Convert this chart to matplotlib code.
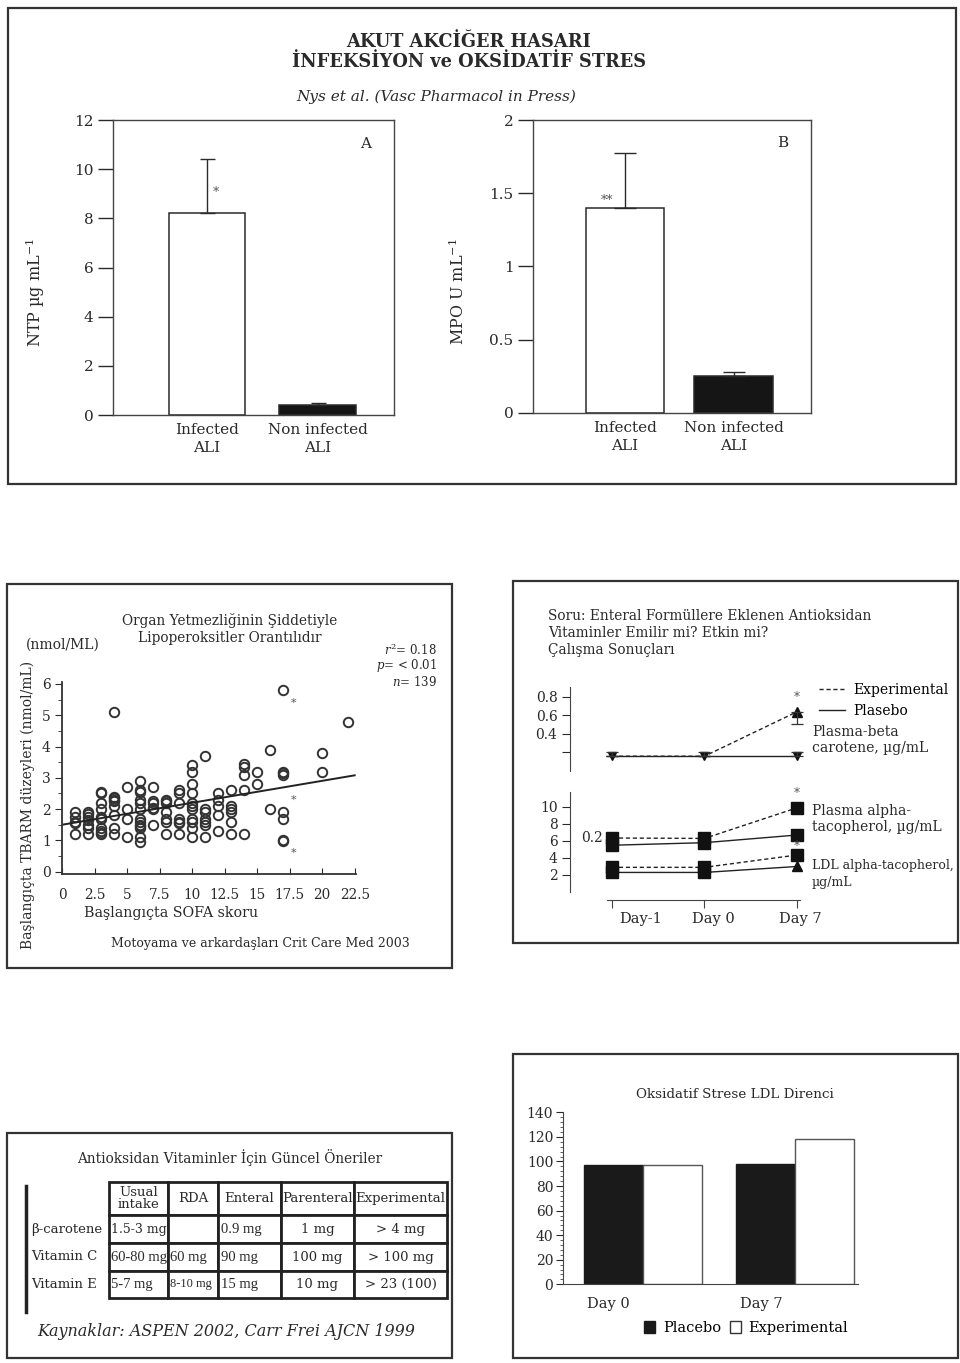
import matplotlib.pyplot as plt
from matplotlib.patches import Rectangle, Patch
from matplotlib.lines import Line2D
import numpy as np

plt.rcParams['font.family'] = ['DejaVu Serif']
plt.rcParams['mathtext.fontset'] = 'dejavuserif'

W, H = 960, 1363
INK = '#2a2a2a'

# ---- top: infection / oxidative stress
ali_groups = ['Infected\nALI', 'Non infected\nALI']
ntp_mean = [8.2, 0.42]
ntp_err = [2.2, 0.06]
mpo_mean = [1.40, 0.25]
mpo_err = [0.375, 0.03]

# ---- middle left: TBARM vs SOFA
sofa_cols = [1, 2, 3, 4, 5, 6, 7, 8, 9, 10, 11, 12, 13, 14, 15, 16, 17, 20, 22]
tbarm_cols = [
    [1.2, 1.55, 1.6, 1.75, 1.9],
    [1.2, 1.4, 1.5, 1.65, 1.75, 1.85, 1.9],
    [1.2, 1.25, 1.3, 1.4, 1.7, 1.75, 2.0, 2.2, 2.5, 2.55],
    [1.2, 1.4, 1.8, 2.1, 2.25, 2.3, 2.35, 2.4, 5.1],
    [1.1, 1.7, 2.0, 2.7],
    [0.95, 1.1, 1.4, 1.45, 1.5, 1.6, 1.7, 2.0, 2.2, 2.3, 2.55, 2.6, 2.9],
    [1.5, 2.0, 2.05, 2.2, 2.25, 2.7],
    [1.2, 1.6, 1.7, 1.9, 2.2, 2.25, 2.3],
    [1.2, 1.55, 1.6, 1.7, 2.2, 2.5, 2.6],
    [1.1, 1.4, 1.6, 1.7, 2.0, 2.1, 2.2, 2.5, 2.8, 3.2, 3.4],
    [1.1, 1.5, 1.6, 1.7, 1.9, 2.0, 3.7],
    [1.3, 1.8, 2.1, 2.3, 2.5],
    [1.2, 1.6, 1.9, 2.0, 2.1, 2.6],
    [1.2, 2.6, 3.1, 3.35, 3.45],
    [2.8, 3.2],
    [2.0, 3.9],
    [0.98, 1.0, 1.7, 1.9, 3.1, 3.15, 3.2, 5.8],
    [3.2, 3.8],
    [4.8],
]
fit_sofa = [0, 22.5]
fit_tbarm = [1.5, 3.08]
star_sofa = [17.8, 17.8, 17.8]
star_tbarm = [5.4, 2.3, 0.6]

# ---- middle right: vitamin absorption
days = ['Day-1', 'Day 0', 'Day 7']
beta_exp = [0.16, 0.16, 0.64]
beta_exp_err_down = [0, 0, 0.13]
beta_pl = [0.16, 0.16, 0.16]
beta_pl_err_up = [0.045, 0.05, 0.04]
alpha_exp = [6.35, 6.3, 9.9]
alpha_pl = [5.5, 5.8, 6.7]
ldl_exp = [2.9, 2.9, 4.35]
ldl_pl = [2.3, 2.3, 3.0]

# ---- bottom left: recommendations table
vit_cols = ['Usual\nintake', 'RDA', 'Enteral', 'Parenteral', 'Experimental']
vit_rows = ['β-carotene', 'Vitamin C', 'Vitamin E']
vit_cells = [
    ['1.5-3 mg', '', '0.9 mg', '1 mg', '> 4 mg'],
    ['60-80 mg', '60 mg', '90 mg', '100 mg', '> 100 mg'],
    ['5-7 mg', '8-10 mg', '15 mg', '10 mg', '> 23 (100)'],
]

# ---- bottom right: LDL resistance
ldl_days = ['Day 0', 'Day 7']
ldl_placebo = [97.5, 98]
ldl_experimental = [97.5, 118]


def rect(x0, y0, x1, y1):
    return [x0 / W, 1 - y1 / H, (x1 - x0) / W, (y1 - y0) / H]


def ftext(x, y, s, **kw):
    kw.setdefault('ha', 'center')
    kw.setdefault('va', 'center')
    kw.setdefault('color', INK)
    fig.text(x / W, 1 - y / H, s, **kw)


def box(x0, y0, x1, y1):
    fig.add_artist(Rectangle((x0 / W, 1 - y1 / H), (x1 - x0) / W, (y1 - y0) / H,
                             transform=fig.transFigure, fill=False, ec='#333', lw=1.6))


fig = plt.figure(figsize=(9.6, 13.63), dpi=100)

box(8, 8, 956, 484)
box(7, 584, 452, 968)
box(513, 581, 958, 943)
box(7, 1133, 452, 1358)
box(513, 1054, 958, 1358)

# ================= top panel
ftext(469, 42, 'AKUT AKCİĞER HASARI', fontsize=12.8, fontweight='bold')
ftext(469, 62, 'İNFEKSİYON ve OKSİDATİF STRES', fontsize=12.8, fontweight='bold')
ftext(436, 97, 'Nys et al. (Vasc Pharmacol in Press)', fontsize=11, style='italic')


def ali_axes(r, mean, err, xlim, width, ymax, yticks, ylabels, cap, letter):
    ax = fig.add_axes(r)
    x = np.arange(len(mean))
    ax.bar(x, mean, width=width, color=['white', '#151515'], edgecolor=INK, lw=1.1)
    ax.errorbar(x, mean, yerr=[[0] * len(err), err], fmt='none', ecolor=INK,
                elinewidth=1, capsize=cap, capthick=1)
    ax.set_xlim(*xlim)
    ax.set_ylim(0, ymax)
    ax.set_yticks(yticks)
    ax.set_yticklabels(ylabels)
    ax.set_xticks(x)
    ax.set_xticklabels(ali_groups, fontsize=11, linespacing=1.3)
    ax.tick_params(axis='x', length=0, pad=6, colors=INK)
    ax.tick_params(axis='y', length=11, width=1, pad=3, labelsize=11, colors=INK)
    for s in ax.spines.values():
        s.set_color('#444')
        s.set_linewidth(1)
    ax.text(0.9, 0.92, letter, transform=ax.transAxes, ha='center', va='center',
            fontsize=11, color=INK)
    return ax


axA = ali_axes(rect(113, 120, 394, 415), ntp_mean, ntp_err, (-0.851, 1.692), 0.69,
               12, [0, 2, 4, 6, 8, 10, 12], ['0', '2', '4', '6', '8', '10', '12'], 5.4, 'A')
axA.text(0.08, ntp_mean[0] + 0.85, '*', ha='center', va='center', fontsize=9, color='#555')
ftext(35, 292, 'NTP µg mL$^{-1}$', fontsize=11.5, rotation=90)

axB = ali_axes(rect(533, 120, 811, 413), mpo_mean, mpo_err, (-0.848, 1.714), 0.72,
               2, [0, 0.5, 1, 1.5, 2], ['0', '0.5', '1', '1.5', '2'], 8, 'B')
axB.text(-0.17, mpo_mean[0] + 0.05, '**', ha='center', va='center', fontsize=9, color='#555')
ftext(458, 292, 'MPO U mL$^{-1}$', fontsize=11.5, rotation=90)

# ================= middle left: scatter
axS = fig.add_axes(rect(62, 682.4, 356, 874.2))
sx = np.concatenate([[c] * len(v) for c, v in zip(sofa_cols, tbarm_cols)])
sy = np.concatenate(tbarm_cols)
axS.plot(sx, sy, ls='none', marker='o', ms=6.8, mfc='none', mec='#333', mew=1.4)
axS.plot(fit_sofa, fit_tbarm, color='#222', lw=1.4)
for xs, ys in zip(star_sofa, star_tbarm):
    axS.text(xs, ys, '*', ha='center', va='center', fontsize=8, color='#555')
axS.set_xlim(0, 22.6)
axS.set_ylim(-0.08, 6.05)
axS.set_xticks(np.arange(0, 22.6, 2.5))
axS.set_xticklabels(['0', '2.5', '5', '7.5', '10', '12.5', '15', '17.5', '20', '22.5'])
axS.set_yticks(range(7))
axS.set_yticks(np.arange(0.5, 6, 1), minor=True)
axS.spines['top'].set_visible(False)
axS.spines['right'].set_visible(False)
for s in ('left', 'bottom'):
    axS.spines[s].set_color('#333')
    axS.spines[s].set_linewidth(1.3)
axS.tick_params(axis='x', direction='in', length=4, pad=10, labelsize=9.8, colors=INK)
axS.tick_params(axis='y', direction='out', length=5, pad=3, labelsize=10, colors=INK)
axS.tick_params(axis='y', which='minor', direction='out', length=3, colors=INK)

ftext(230, 629, 'Organ Yetmezliğinin Şiddetiyle\nLipoperoksitler Orantılıdır',
      fontsize=9.8, linespacing=1.25)
ftext(63, 645, '(nmol/ML)', fontsize=10)
ftext(437, 650, '$r^2$= 0.18', fontsize=8.5, ha='right')
ftext(437, 666, '$p$= < 0.01', fontsize=8.5, ha='right')
ftext(437, 682, '$n$= 139', fontsize=8.5, ha='right')
ftext(28, 805, 'Başlangıçta TBARM düzeyleri (nmol/mL)', fontsize=10, rotation=90)
ftext(171, 913, 'Başlangıçta SOFA skoru', fontsize=10.3)
ftext(260, 944, 'Motoyama ve arkardaşları Crit Care Med 2003', fontsize=9)

# ================= middle right: vitamins
ftext(548, 633, 'Soru: Enteral Formüllere Eklenen Antioksidan\nVitaminler Emilir mi? Etkin mi?\nÇalışma Sonuçları',
      fontsize=9.9, ha='left', linespacing=1.3)

xd = np.arange(len(days))
xl = (-0.454, 2.357)
dash = (0, (3, 2))

axV1 = fig.add_axes(rect(570, 687, 830, 771))
axV1.plot(xd, beta_pl, color='#222', lw=1, marker='v', ms=5.5, mfc='#111', mec='#111')
axV1.plot(xd, beta_exp, color='#222', lw=1, ls=dash, marker='^', ms=7, markevery=[2],
          mfc='#111', mec='#111')
axV1.errorbar(xd, beta_pl, yerr=[[0] * 3, beta_pl_err_up], fmt='none', ecolor='#333',
              elinewidth=0.9, capsize=4, capthick=0.9)
axV1.errorbar(xd, beta_exp, yerr=[beta_exp_err_down, [0] * 3], fmt='none', ecolor='#333',
              elinewidth=0.9, capsize=4, capthick=0.9)
axV1.annotate('*', (2, beta_exp[2]), xytext=(0, 14), textcoords='offset pixels',
              ha='center', va='center', fontsize=8.5, color='#555')
axV1.set_xlim(*xl)
axV1.set_ylim(0.0, 0.908)
axV1.set_yticks([0.2, 0.4, 0.6, 0.8])
axV1.set_yticklabels(['', '0.4', '0.6', '0.8'])

axV2 = fig.add_axes(rect(570, 792, 830, 892))
axV2.plot(xd, alpha_pl, color='#222', lw=1, marker='s', ms=8.5, mfc='#111', mec='#111')
axV2.plot(xd, alpha_exp, color='#222', lw=1, ls=dash, marker='s', ms=8.5, mfc='#111', mec='#111')
axV2.plot(xd, ldl_pl, color='#222', lw=1, marker='s', ms=8.5, markevery=[0, 1], mfc='#111', mec='#111')
axV2.plot(xd, ldl_pl, ls='none', marker='^', ms=6.5, markevery=[2], mfc='#111', mec='#111')
axV2.plot(xd, ldl_exp, color='#222', lw=1, ls=dash, marker='s', ms=8.5, mfc='#111', mec='#111')
axV2.annotate('*', (2, alpha_exp[2]), xytext=(0, 14), textcoords='offset pixels',
              ha='center', va='center', fontsize=8.5, color='#555')
axV2.annotate('*', (2, ldl_exp[2]), xytext=(0, 9), textcoords='offset pixels',
              ha='center', va='center', fontsize=8.5, color='#555')
axV2.set_xlim(*xl)
axV2.set_ylim(0, 11.76)
axV2.set_yticks([2, 4, 6, 8, 10])
axV2.text(-0.1, 6.35, '0.2', ha='right', va='center', fontsize=10, color=INK)

for ax in (axV1, axV2):
    for s in ('top', 'right', 'bottom'):
        ax.spines[s].set_visible(False)
    ax.spines['left'].set_color('#444')
    ax.set_xticks([])
    ax.tick_params(axis='y', direction='out', length=6, pad=3, labelsize=10, colors=INK)
    ax.patch.set_visible(False)

axV3 = fig.add_axes(rect(570, 899, 830, 900))
axV3.set_xlim(*xl)
axV3.set_yticks([])
for s in ('top', 'right', 'left'):
    axV3.spines[s].set_visible(False)
axV3.spines['bottom'].set_bounds(-0.05, 2.03)
axV3.spines['bottom'].set_color('#444')
axV3.set_xticks(xd)
axV3.set_xticklabels([])
axV3.tick_params(axis='x', direction='out', length=6, colors='#444')
for i, (d, off) in enumerate(zip(days, [0.31, 0.1, 0.04])):
    axV3.annotate(d, xy=(i + off, 0), xycoords=axV3.get_xaxis_transform(),
                  xytext=(0, -19), textcoords='offset pixels', ha='center',
                  va='center', fontsize=10.5, color=INK, annotation_clip=False)
axV3.patch.set_visible(False)

axV1.legend(handles=[Line2D([], [], color='#222', lw=1, ls=dash),
                     Line2D([], [], color='#222', lw=1)],
            labels=['Experimental', 'Plasebo'], loc='upper left',
            bbox_to_anchor=(813 / W, 1 - 677 / H), bbox_transform=fig.transFigure,
            frameon=False, fontsize=10, handlelength=1.9, labelspacing=0.55,
            handletextpad=0.6, borderaxespad=0)
ftext(812, 740, 'Plasma-beta\ncarotene, µg/mL', fontsize=10, ha='left', linespacing=1.2)
ftext(812, 819, 'Plasma alpha-\ntacopherol, µg/mL', fontsize=10, ha='left', linespacing=1.2)
ftext(812, 874, 'LDL alpha-tacopherol,\nµg/mL', fontsize=9, ha='left', linespacing=1.4)

# ================= bottom left: table
ftext(230, 1157, 'Antioksidan Vitaminler İçin Güncel Öneriler', fontsize=9.8)
axT = fig.add_axes(rect(28, 1182, 447, 1298))
axT.axis('off')
col_w = np.array([81, 59, 50, 63, 73, 93], dtype=float)
col_w = col_w / col_w.sum()
tab = axT.table(cellText=[[r] + c for r, c in zip(vit_rows, vit_cells)],
                colLabels=[''] + vit_cols, colWidths=list(col_w), bbox=[0, 0, 1, 1],
                cellLoc='center')
tab.auto_set_font_size(False)
row_h = [33, 28, 28, 27]
narrow = {(1, 3), (2, 1), (2, 2), (2, 3), (3, 1), (3, 2), (3, 3)}
for (r, c), cell in tab.get_celld().items():
    cell.set_height(row_h[r])
    cell.set_linewidth(2)
    cell.set_edgecolor('#222')
    cell.PAD = 0.04
    t = cell.get_text()
    t.set_fontsize(9.5)
    t.set_color(INK)
    if c == 0:
        cell.visible_edges = 'open'
        t.set_ha('left')
        t.set_fontsize(9.5)
    elif r > 0 and c in (1, 2, 3):
        t.set_ha('left')
    if r == 0:
        t.set_linespacing(0.9)
    if (r, c) == (1, 1):
        t.set_fontsize(9)
    if (r, c) in narrow:
        t.set_fontfamily('Liberation Serif')
        t.set_fontsize(10.5 if (r, c) != (3, 2) else 9)
fig.add_artist(Line2D([26 / W, 26 / W], [1 - 1186 / H, 1 - 1312 / H],
                      transform=fig.transFigure, color='#222', lw=2.5))
ftext(226, 1331, 'Kaynaklar: ASPEN 2002, Carr Frei AJCN 1999', fontsize=11.5, style='italic')

# ================= bottom right: LDL resistance
axL = fig.add_axes(rect(563, 1112.3, 858, 1284.3))
xg = np.arange(len(ldl_days))
bw = 0.39
axL.bar(xg - bw / 2, ldl_placebo, width=bw, color='#1a1a1a', edgecolor='#1a1a1a', lw=1)
axL.bar(xg + bw / 2, ldl_experimental, width=bw, color='white', edgecolor='#555', lw=1)
axL.set_xlim(-0.526, 1.414)
axL.set_ylim(0, 140)
axL.set_yticks(range(0, 141, 20))
axL.set_yticks(range(0, 141, 4), minor=True)
axL.set_xticks(xg - bw / 2 - 0.03)
axL.set_xticklabels(ldl_days)
axL.tick_params(axis='x', length=0, pad=9, labelsize=10.5, colors=INK)
axL.tick_params(axis='y', direction='out', length=5, pad=2, labelsize=10, colors=INK)
axL.tick_params(axis='y', which='minor', direction='out', length=2.5, colors='#444')
axL.spines['top'].set_visible(False)
axL.spines['right'].set_visible(False)
for s in ('left', 'bottom'):
    axL.spines[s].set_color('#444')
axL.legend(handles=[Patch(fc='#1a1a1a', ec='#1a1a1a'), Patch(fc='white', ec='#333')],
           labels=['Placebo', 'Experimental'], loc='center', ncol=2,
           bbox_to_anchor=(746 / W, 1 - 1328 / H), bbox_transform=fig.transFigure,
           frameon=False, fontsize=10.5, handlelength=0.8, handleheight=0.8,
           handletextpad=0.5, columnspacing=0.6)
ftext(735, 1094, 'Oksidatif Strese LDL Direnci', fontsize=9.7)

fig.savefig('out.png', dpi=100)
